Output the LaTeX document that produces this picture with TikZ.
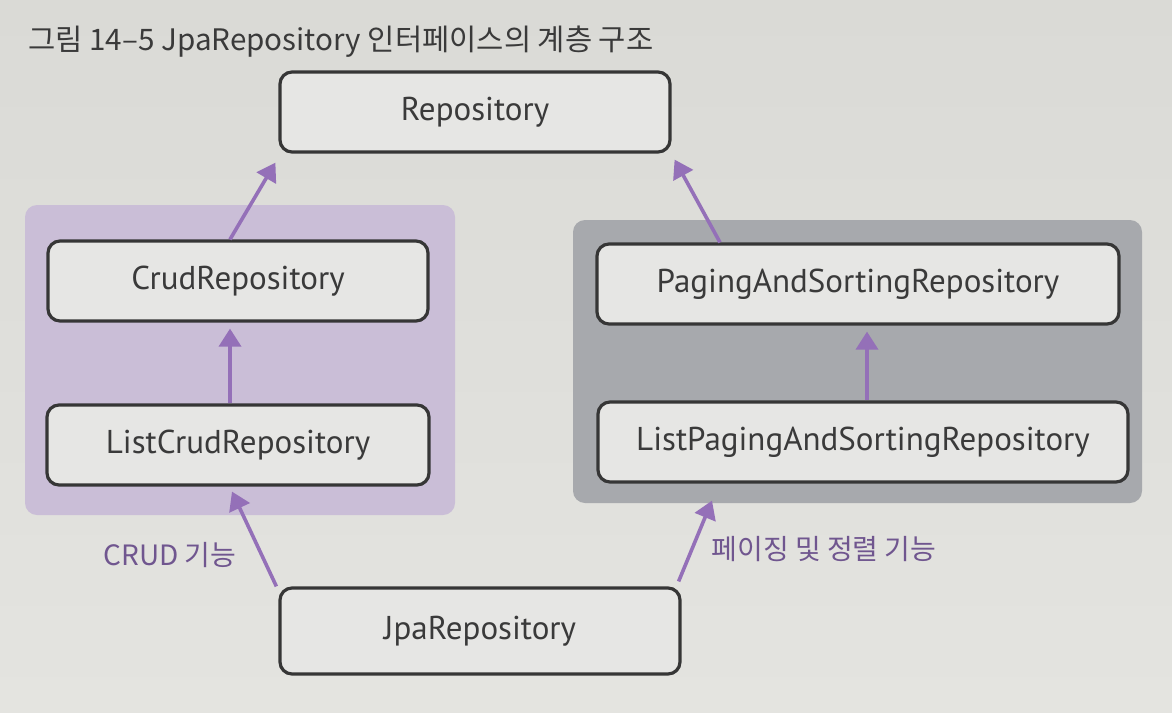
\documentclass[tikz,border=0pt]{standalone}
\usepackage{fontspec}
\setmainfont{PT Sans}
\newfontfamily\kr{Noto Sans CJK KR}
\usetikzlibrary{arrows.meta,calc}
\definecolor{paper}{HTML}{DADAD6}
\definecolor{paperlow}{HTML}{E4E4E0}
\definecolor{boxfill}{HTML}{E6E6E4}
\definecolor{boxline}{HTML}{363636}
\definecolor{inkgray}{HTML}{3A3A3A}
\definecolor{lavender}{HTML}{CABED7}
\definecolor{slate}{HTML}{A7A9AD}
\definecolor{violet}{HTML}{9470B8}
\definecolor{labelviolet}{HTML}{70568F}
\tikzset{
  repo/.style={draw=boxline, line width=1.6pt, fill=boxfill, rounded corners=6pt,
    minimum height=40pt, text=inkgray, font=\fontsize{16.5}{19}\selectfont, inner sep=0pt},
  panel/.style={rounded corners=6pt, draw=none},
  arr/.style={draw=violet, line width=1.8pt, -{Triangle[length=9pt,width=11pt]}},
  tag/.style={text=labelviolet, font=\kr\fontsize{14}{16}\selectfont, inner sep=0pt},
}
\begin{document}
\begin{tikzpicture}[x=0.5pt, y=-0.5pt]
  % paper
  \shade[top color=paper, bottom color=paperlow] (0,0) rectangle (1172,712);
  \useasboundingbox (0,0) rectangle (1172,712);

  % caption
  \node[anchor=base west, text=inkgray, font=\kr\fontsize{14.8}{17}\selectfont, inner sep=0pt]
    (caption) at (28,50) {그림 14–5 JpaRepository 인터페이스의 계층 구조};

  % group panels
  \fill[panel, lavender] (25,205) rectangle (455,515);
  \fill[panel, slate] (573,220) rectangle (1142,503);

  % interfaces
  \node[repo, minimum width=195pt] (repository) at (475,112) {Repository};
  \node[repo, minimum width=190pt] (crud) at (238,281) {CrudRepository};
  \node[repo, minimum width=191pt] (listcrud) at (238,445) {ListCrudRepository};
  \node[repo, minimum width=261pt] (paging) at (858,284) {PagingAndSortingRepository};
  \node[repo, minimum width=265pt] (listpaging) at (863,442) {ListPagingAndSortingRepository};
  \node[repo, minimum width=200pt, minimum height=43pt] (jpa) at (480,631) {JpaRepository};

  % inheritance arrows
  \draw[arr] ($(crud.north)+(-8,0)$) -- ($(repository.south west)+(-3,9)$);
  \draw[arr] ($(listcrud.north)+(-8,0)$) -- ($(crud.south)+(-8,6)$);
  \draw[arr] ($(jpa.north west)+(-2,0)$) -- ($(listcrud.south)+(-6,5)$);
  \draw[arr] ($(paging.north)+(-138,0)$) -- ($(repository.south east)+(3,6)$);
  \draw[arr] ($(listpaging.north)+(4,0)$) -- ($(paging.south)+(9,6)$);
  \draw[arr] ($(jpa.north east)+(-3,-5)$) -- ($(listpaging.south)+(-151,17)$);

  % arrow labels
  \node[tag] (crudtag) at (170,555) {CRUD 기능};
  \node[tag] (pagingtag) at (824,549) {페이징 및 정렬 기능};
\end{tikzpicture}
\end{document}
